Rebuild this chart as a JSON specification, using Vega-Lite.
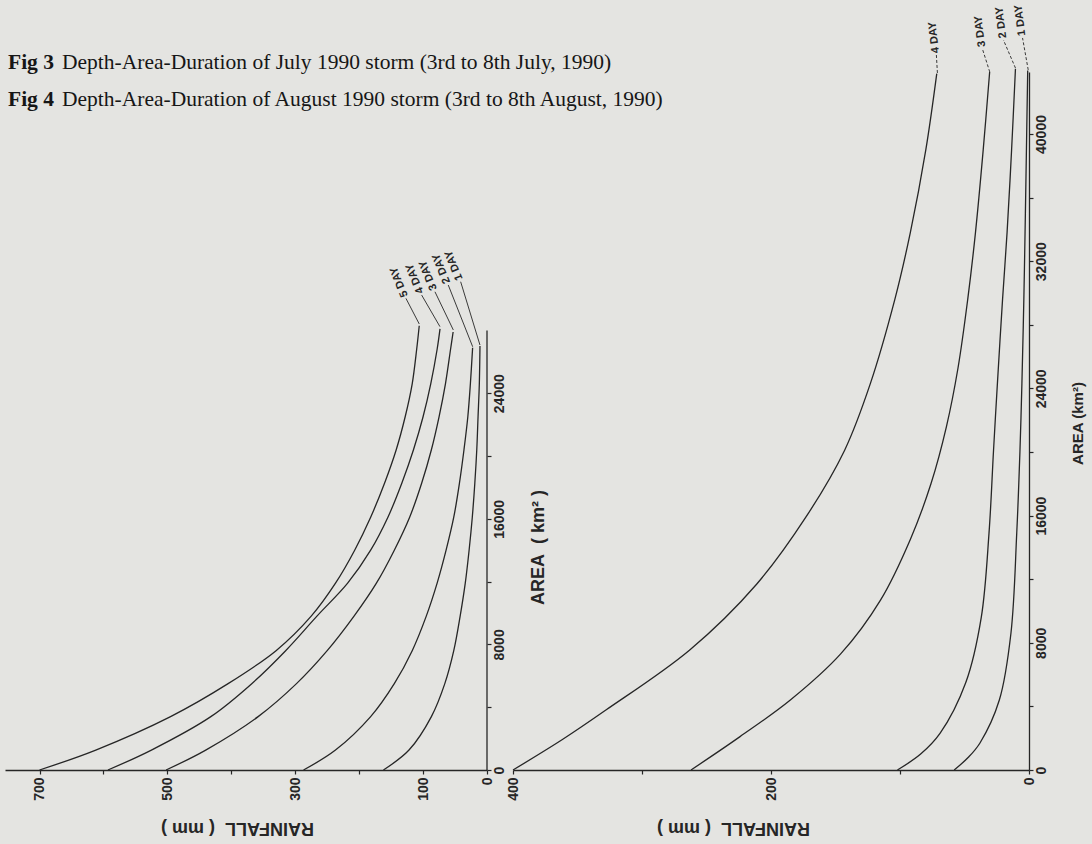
{
  "$schema": "https://vega.github.io/schema/vega-lite/v6.json",
  "background": "#e4e4e1",
  "padding": {"left": 5, "top": 4, "right": 30, "bottom": 40},
  "bounds": "flush",
  "spacing": 26,
  "config": {
    "view": {"stroke": null},
    "axis": {"grid": false, "domainColor": "#262626", "tickColor": "#262626", "labelColor": "#262626", "titleColor": "#262626", "labelFont": "Liberation Sans", "titleFont": "Liberation Sans", "labelFontWeight": "bold", "titleFontWeight": "bold", "domainWidth": 1.3, "tickWidth": 1.2}
  },
  "datasets": {
    "fig3": [
      {"day": "5 DAY", "rain": 700, "area": 0}, {"day": "5 DAY", "rain": 612, "area": 1270}, {"day": "5 DAY", "rain": 495, "area": 3400}, {"day": "5 DAY", "rain": 405, "area": 5500}, {"day": "5 DAY", "rain": 330, "area": 7600}, {"day": "5 DAY", "rain": 275, "area": 9800}, {"day": "5 DAY", "rain": 237, "area": 11900}, {"day": "5 DAY", "rain": 207, "area": 14000}, {"day": "5 DAY", "rain": 182, "area": 16100}, {"day": "5 DAY", "rain": 160, "area": 18300}, {"day": "5 DAY", "rain": 142, "area": 20400}, {"day": "5 DAY", "rain": 128, "area": 22500}, {"day": "5 DAY", "rain": 117, "area": 24600}, {"day": "5 DAY", "rain": 110, "area": 26800}, {"day": "5 DAY", "rain": 106, "area": 28300},
      {"day": "4 DAY", "rain": 593, "area": 0}, {"day": "4 DAY", "rain": 525, "area": 1270}, {"day": "4 DAY", "rain": 432, "area": 3400}, {"day": "4 DAY", "rain": 368, "area": 5500}, {"day": "4 DAY", "rain": 315, "area": 7600}, {"day": "4 DAY", "rain": 266, "area": 9800}, {"day": "4 DAY", "rain": 218, "area": 11900}, {"day": "4 DAY", "rain": 182, "area": 14000}, {"day": "4 DAY", "rain": 155, "area": 16100}, {"day": "4 DAY", "rain": 133, "area": 18300}, {"day": "4 DAY", "rain": 115, "area": 20400}, {"day": "4 DAY", "rain": 100, "area": 22500}, {"day": "4 DAY", "rain": 88, "area": 24600}, {"day": "4 DAY", "rain": 78, "area": 26800}, {"day": "4 DAY", "rain": 73.5, "area": 28100},
      {"day": "3 DAY", "rain": 502, "area": 0}, {"day": "3 DAY", "rain": 440, "area": 1270}, {"day": "3 DAY", "rain": 358, "area": 3400}, {"day": "3 DAY", "rain": 298, "area": 5500}, {"day": "3 DAY", "rain": 250, "area": 7600}, {"day": "3 DAY", "rain": 208, "area": 9800}, {"day": "3 DAY", "rain": 173, "area": 11900}, {"day": "3 DAY", "rain": 145, "area": 14000}, {"day": "3 DAY", "rain": 121, "area": 16100}, {"day": "3 DAY", "rain": 102, "area": 18300}, {"day": "3 DAY", "rain": 87, "area": 20400}, {"day": "3 DAY", "rain": 75, "area": 22500}, {"day": "3 DAY", "rain": 65, "area": 24600}, {"day": "3 DAY", "rain": 57, "area": 26800}, {"day": "3 DAY", "rain": 53, "area": 27900},
      {"day": "2 DAY", "rain": 287, "area": 0}, {"day": "2 DAY", "rain": 237, "area": 1270}, {"day": "2 DAY", "rain": 182, "area": 3400}, {"day": "2 DAY", "rain": 145, "area": 5500}, {"day": "2 DAY", "rain": 117, "area": 7600}, {"day": "2 DAY", "rain": 95, "area": 9800}, {"day": "2 DAY", "rain": 78, "area": 11900}, {"day": "2 DAY", "rain": 64, "area": 14000}, {"day": "2 DAY", "rain": 52, "area": 16100}, {"day": "2 DAY", "rain": 43, "area": 18300}, {"day": "2 DAY", "rain": 36, "area": 20400}, {"day": "2 DAY", "rain": 30, "area": 22500}, {"day": "2 DAY", "rain": 26, "area": 24600}, {"day": "2 DAY", "rain": 22.5, "area": 26900},
      {"day": "1 DAY", "rain": 162, "area": 0}, {"day": "1 DAY", "rain": 122, "area": 1270}, {"day": "1 DAY", "rain": 87, "area": 3400}, {"day": "1 DAY", "rain": 66, "area": 5500}, {"day": "1 DAY", "rain": 52, "area": 7600}, {"day": "1 DAY", "rain": 42, "area": 9800}, {"day": "1 DAY", "rain": 34, "area": 11900}, {"day": "1 DAY", "rain": 28, "area": 14000}, {"day": "1 DAY", "rain": 23, "area": 16100}, {"day": "1 DAY", "rain": 19, "area": 18300}, {"day": "1 DAY", "rain": 16, "area": 20400}, {"day": "1 DAY", "rain": 14, "area": 22500}, {"day": "1 DAY", "rain": 12, "area": 24600}, {"day": "1 DAY", "rain": 11, "area": 27000}
    ],
    "fig4": [
      {"day": "4 DAY", "rain": 400, "area": 0}, {"day": "4 DAY", "rain": 362, "area": 1900}, {"day": "4 DAY", "rain": 328, "area": 3770}, {"day": "4 DAY", "rain": 263, "area": 7550}, {"day": "4 DAY", "rain": 211, "area": 11700}, {"day": "4 DAY", "rain": 173, "area": 15900}, {"day": "4 DAY", "rain": 143, "area": 20100}, {"day": "4 DAY", "rain": 123, "area": 24300}, {"day": "4 DAY", "rain": 104, "area": 29600}, {"day": "4 DAY", "rain": 92, "area": 33800}, {"day": "4 DAY", "rain": 80, "area": 39000}, {"day": "4 DAY", "rain": 71.5, "area": 43800},
      {"day": "3 DAY", "rain": 262, "area": 0}, {"day": "3 DAY", "rain": 224, "area": 2100}, {"day": "3 DAY", "rain": 185, "area": 4400}, {"day": "3 DAY", "rain": 146, "area": 7300}, {"day": "3 DAY", "rain": 115, "area": 10700}, {"day": "3 DAY", "rain": 92, "area": 14500}, {"day": "3 DAY", "rain": 76, "area": 18000}, {"day": "3 DAY", "rain": 64, "area": 21600}, {"day": "3 DAY", "rain": 55, "area": 25300}, {"day": "3 DAY", "rain": 47.5, "area": 29600}, {"day": "3 DAY", "rain": 41.5, "area": 33800}, {"day": "3 DAY", "rain": 35.5, "area": 39000}, {"day": "3 DAY", "rain": 30.5, "area": 43900},
      {"day": "2 DAY", "rain": 102, "area": 0}, {"day": "2 DAY", "rain": 84, "area": 1000}, {"day": "2 DAY", "rain": 69, "area": 2300}, {"day": "2 DAY", "rain": 49, "area": 5500}, {"day": "2 DAY", "rain": 37, "area": 9600}, {"day": "2 DAY", "rain": 31, "area": 14900}, {"day": "2 DAY", "rain": 27.5, "area": 20100}, {"day": "2 DAY", "rain": 24.5, "area": 24300}, {"day": "2 DAY", "rain": 20.5, "area": 29600}, {"day": "2 DAY", "rain": 17, "area": 33800}, {"day": "2 DAY", "rain": 13.5, "area": 39000}, {"day": "2 DAY", "rain": 10.5, "area": 44100},
      {"day": "1 DAY", "rain": 58, "area": 0}, {"day": "1 DAY", "rain": 47, "area": 800}, {"day": "1 DAY", "rain": 38, "area": 1700}, {"day": "1 DAY", "rain": 23, "area": 4400}, {"day": "1 DAY", "rain": 14, "area": 8600}, {"day": "1 DAY", "rain": 9.5, "area": 14900}, {"day": "1 DAY", "rain": 7, "area": 20100}, {"day": "1 DAY", "rain": 5.5, "area": 24300}, {"day": "1 DAY", "rain": 4, "area": 29600}, {"day": "1 DAY", "rain": 2.8, "area": 35000}, {"day": "1 DAY", "rain": 2, "area": 39000}, {"day": "1 DAY", "rain": 1, "area": 44000}
    ],
    "fig3lab": [
      {"day": "5 DAY", "rain": 106, "area": 28410, "lrain": 126.8, "larea": 30040},
      {"day": "4 DAY", "rain": 73.6, "area": 28240, "lrain": 102.2, "larea": 30250},
      {"day": "3 DAY", "rain": 52.7, "area": 28030, "lrain": 81.4, "larea": 30460},
      {"day": "2 DAY", "rain": 22.4, "area": 26960, "lrain": 60.6, "larea": 30890},
      {"day": "1 DAY", "rain": 11, "area": 27070, "lrain": 41.2, "larea": 31100}
    ],
    "fig4lab": [
      {"day": "4 DAY", "rain": 71.0, "area": 43840, "lrain": 71.8, "larea": 44970},
      {"day": "3 DAY", "rain": 30.4, "area": 43900, "lrain": 36.1, "larea": 45350},
      {"day": "2 DAY", "rain": 10.5, "area": 44150, "lrain": 19.8, "larea": 45910},
      {"day": "1 DAY", "rain": 0.6, "area": 44030, "lrain": 5.0, "larea": 46040}
    ]
  },
  "hconcat": [
    {
      "width": 482,
      "height": 698,
      "title": {
        "text": ["Depth-Area-Duration of July 1990 storm (3rd to 8th July, 1990)", "Depth-Area-Duration of August 1990 storm (3rd to 8th August, 1990)"],
        "anchor": "start",
        "frame": "group",
        "orient": "top",
        "font": "Liberation Serif",
        "fontSize": 21.5,
        "fontWeight": "normal",
        "lineHeight": 37,
        "offset": -38,
        "dx": 57,
        "color": "#161616"
      },
      "layer": [
        {
          "data": {"name": "fig3"},
          "mark": {"type": "line", "interpolate": "catmull-rom", "stroke": "#262626", "strokeWidth": 1.3},
          "encoding": {
            "x": {"field": "rain", "type": "quantitative", "scale": {"domain": [754, 0], "nice": false, "zero": false},
              "axis": {"orient": "bottom", "values": [700, 600, 500, 400, 300, 200, 100, 0], "labelExpr": "(datum.value % 200 == 100 || datum.value == 0) ? datum.label : ''", "format": "d", "labelAngle": 270, "labelFontSize": 14, "labelPadding": 3, "tickSize": 4, "title": "RAINFALL\u00a0 ( mm )", "titleAngle": 180, "titleBaseline": "bottom", "titleFontSize": 18, "titlePadding": 18, "titleX": 232}},
            "y": {"field": "area", "type": "quantitative", "scale": {"domain": [0, 44460], "nice": false},
              "axis": {"orient": "right", "domain": false, "values": [0, 4000, 8000, 12000, 16000, 20000, 24000], "labelExpr": "datum.value % 8000 == 0 ? datum.label : ''", "format": "d", "labelAngle": 270, "labelFontSize": 14, "labelPadding": 1, "tickSize": 4, "title": "AREA\u00a0 ( km² )", "titleAngle": 270, "titleFontSize": 18, "titleX": 51, "titleY": 475, "titleAlign": "center", "titleBaseline": "middle"}},
            "detail": {"field": "day"},
            "order": {"field": "area", "type": "quantitative"}
          }
        },
        {
          "data": {"values": [{"a": 0, "b": 28000}]},
          "mark": {"type": "rule", "stroke": "#262626", "strokeWidth": 1.3},
          "encoding": {"x": {"datum": 0, "type": "quantitative"}, "y": {"field": "a", "type": "quantitative"}, "y2": {"field": "b"}}
        },
        {
          "data": {"name": "fig3lab"},
          "mark": {"type": "rule", "stroke": "#262626", "strokeWidth": 0.9},
          "encoding": {"x": {"field": "rain", "type": "quantitative"}, "y": {"field": "area", "type": "quantitative"}, "x2": {"field": "lrain"}, "y2": {"field": "larea"}}
        },
        {
          "data": {"name": "fig3lab"},
          "mark": {"type": "text", "angle": 248, "align": "left", "baseline": "middle", "dx": 2, "font": "Liberation Sans", "fontWeight": "bold", "fontSize": 11, "fill": "#262626"},
          "encoding": {"x": {"field": "lrain", "type": "quantitative"}, "y": {"field": "larea", "type": "quantitative"}, "text": {"field": "day"}}
        }
      ]
    },
    {
      "width": 516,
      "height": 698,
      "title": {
        "text": ["Fig 3", "Fig 4"],
        "anchor": "start",
        "frame": "group",
        "orient": "top",
        "font": "Liberation Serif",
        "fontSize": 21.5,
        "fontWeight": "bold",
        "lineHeight": 37,
        "offset": -106,
        "dx": -505,
        "color": "#161616"
      },
      "layer": [
        {
          "data": {"name": "fig4"},
          "mark": {"type": "line", "interpolate": "catmull-rom", "stroke": "#262626", "strokeWidth": 1.3},
          "encoding": {
            "x": {"field": "rain", "type": "quantitative", "scale": {"domain": [400, 0], "nice": false, "zero": false},
              "axis": {"orient": "bottom", "values": [400, 300, 200, 100, 0], "labelExpr": "datum.value % 200 == 0 ? datum.label : ''", "format": "d", "labelAngle": 270, "labelFontSize": 14, "labelPadding": 3, "tickSize": 4, "title": "RAINFALL\u00a0 ( mm )", "titleAngle": 180, "titleBaseline": "bottom", "titleFontSize": 18, "titlePadding": 18, "titleX": 220}},
            "y": {"field": "area", "type": "quantitative", "scale": {"domain": [0, 43900], "nice": false},
              "axis": {"orient": "right", "values": [0, 4000, 8000, 12000, 16000, 20000, 24000, 28000, 32000, 36000, 40000], "labelExpr": "datum.value % 8000 == 0 ? datum.label : ''", "format": "d", "labelAngle": 270, "labelFontSize": 14, "labelPadding": 1, "tickSize": 4, "title": "AREA (km²)", "titleAngle": 270, "titleFontSize": 15, "titleX": 48, "titleY": 351, "titleAlign": "center", "titleBaseline": "middle"}},
            "detail": {"field": "day"},
            "order": {"field": "area", "type": "quantitative"}
          }
        },
        {
          "data": {"name": "fig4lab"},
          "mark": {"type": "rule", "stroke": "#262626", "strokeWidth": 0.9, "strokeDash": [3, 2]},
          "encoding": {"x": {"field": "rain", "type": "quantitative"}, "y": {"field": "area", "type": "quantitative"}, "x2": {"field": "lrain"}, "y2": {"field": "larea"}}
        },
        {
          "data": {"name": "fig4lab"},
          "mark": {"type": "text", "angle": 263, "align": "left", "baseline": "middle", "dx": 2, "font": "Liberation Sans", "fontWeight": "bold", "fontSize": 11, "fill": "#262626"},
          "encoding": {"x": {"field": "lrain", "type": "quantitative"}, "y": {"field": "larea", "type": "quantitative"}, "text": {"field": "day"}}
        }
      ]
    }
  ]
}
